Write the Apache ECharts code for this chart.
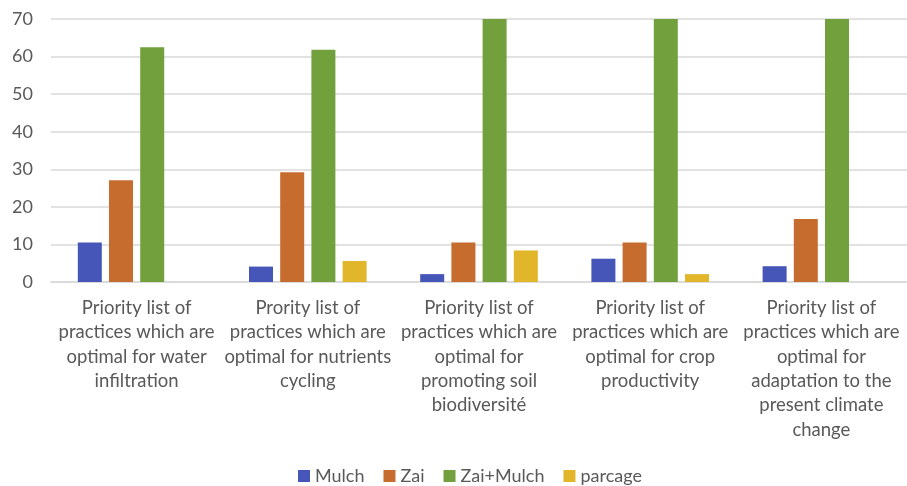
<!DOCTYPE html>
<html>
<head>
<meta charset="utf-8">
<script src="https://cdn.jsdelivr.net/npm/echarts@6/dist/echarts.min.js"></script>
<style>
  html, body { margin: 0; padding: 0; background: #fff; }
  #chart { width: 907px; height: 486px; }
</style>
</head>
<body>
<div id="chart"></div>
<script>
// Priority practices by objective (percent of responses)
const categories = [
  'Priority list of\npractices which are\noptimal for water\ninfiltration',
  'Prority list of\npractices which are\noptimal for nutrients\ncycling',
  'Priority list of\npractices which are\noptimal for\npromoting soil\nbiodiversité',
  'Priority list of\npractices which are\noptimal for crop\nproductivity',
  'Priority list of\npractices which are\noptimal for\nadaptation to the\npresent climate\nchange'
];
const mulch    = [10.5, 4.1, 2.1, 6.2, 4.2];
const zai      = [27.1, 29.2, 10.5, 10.5, 16.8];
const zaiMulch = [62.5, 61.8, 79.2, 81.3, 79.2];
const parcage  = [null, 5.6, 8.4, 2.1, null];
const yTicks   = { min: 0, max: 70, interval: 10 };

const seriesNames  = ['Mulch', 'Zai', 'Zai+Mulch', 'parcage'];
const seriesData   = [mulch, zai, zaiMulch, parcage];
const seriesColors = ['#4656B8', '#C76C2F', '#71A03D', '#E2B62A'];

const textColor = '#595959';
const font = 'Lato, "Open Sans", sans-serif';

const chart = echarts.init(document.getElementById('chart'));
chart.setOption({
  animation: false,
  textStyle: { fontFamily: font },
  grid: { left: 51, right: 0, top: 19, bottom: 204 },
  legend: {
    data: seriesNames,
    top: 467,
    left: 298,
    padding: 0,
    itemWidth: 12,
    itemHeight: 12,
    itemGap: 19,
    icon: 'rect',
    textStyle: { color: textColor, fontSize: 18, fontFamily: font }
  },
  xAxis: {
    type: 'category',
    data: categories,
    axisLine: { lineStyle: { color: '#D9D9D9', width: 1.5 } },
    axisTick: { show: false },
    axisLabel: {
      color: textColor,
      fontSize: 18.5,
      lineHeight: 24.3,
      margin: 14,
      interval: 0,
      align: 'center'
    }
  },
  yAxis: {
    type: 'value',
    min: yTicks.min,
    max: yTicks.max,
    interval: yTicks.interval,
    axisLine: { show: false },
    axisTick: { show: false },
    splitLine: { lineStyle: { color: '#D9D9D9', width: 1.5 } },
    axisLabel: { color: textColor, fontSize: 18, margin: 18 }
  },
  series: seriesNames.map((name, i) => ({
    name: name,
    type: 'bar',
    data: seriesData[i],
    barWidth: 24,
    barGap: '30%',
    clip: true,
    itemStyle: { color: seriesColors[i] }
  }))
});
</script>
</body>
</html>
